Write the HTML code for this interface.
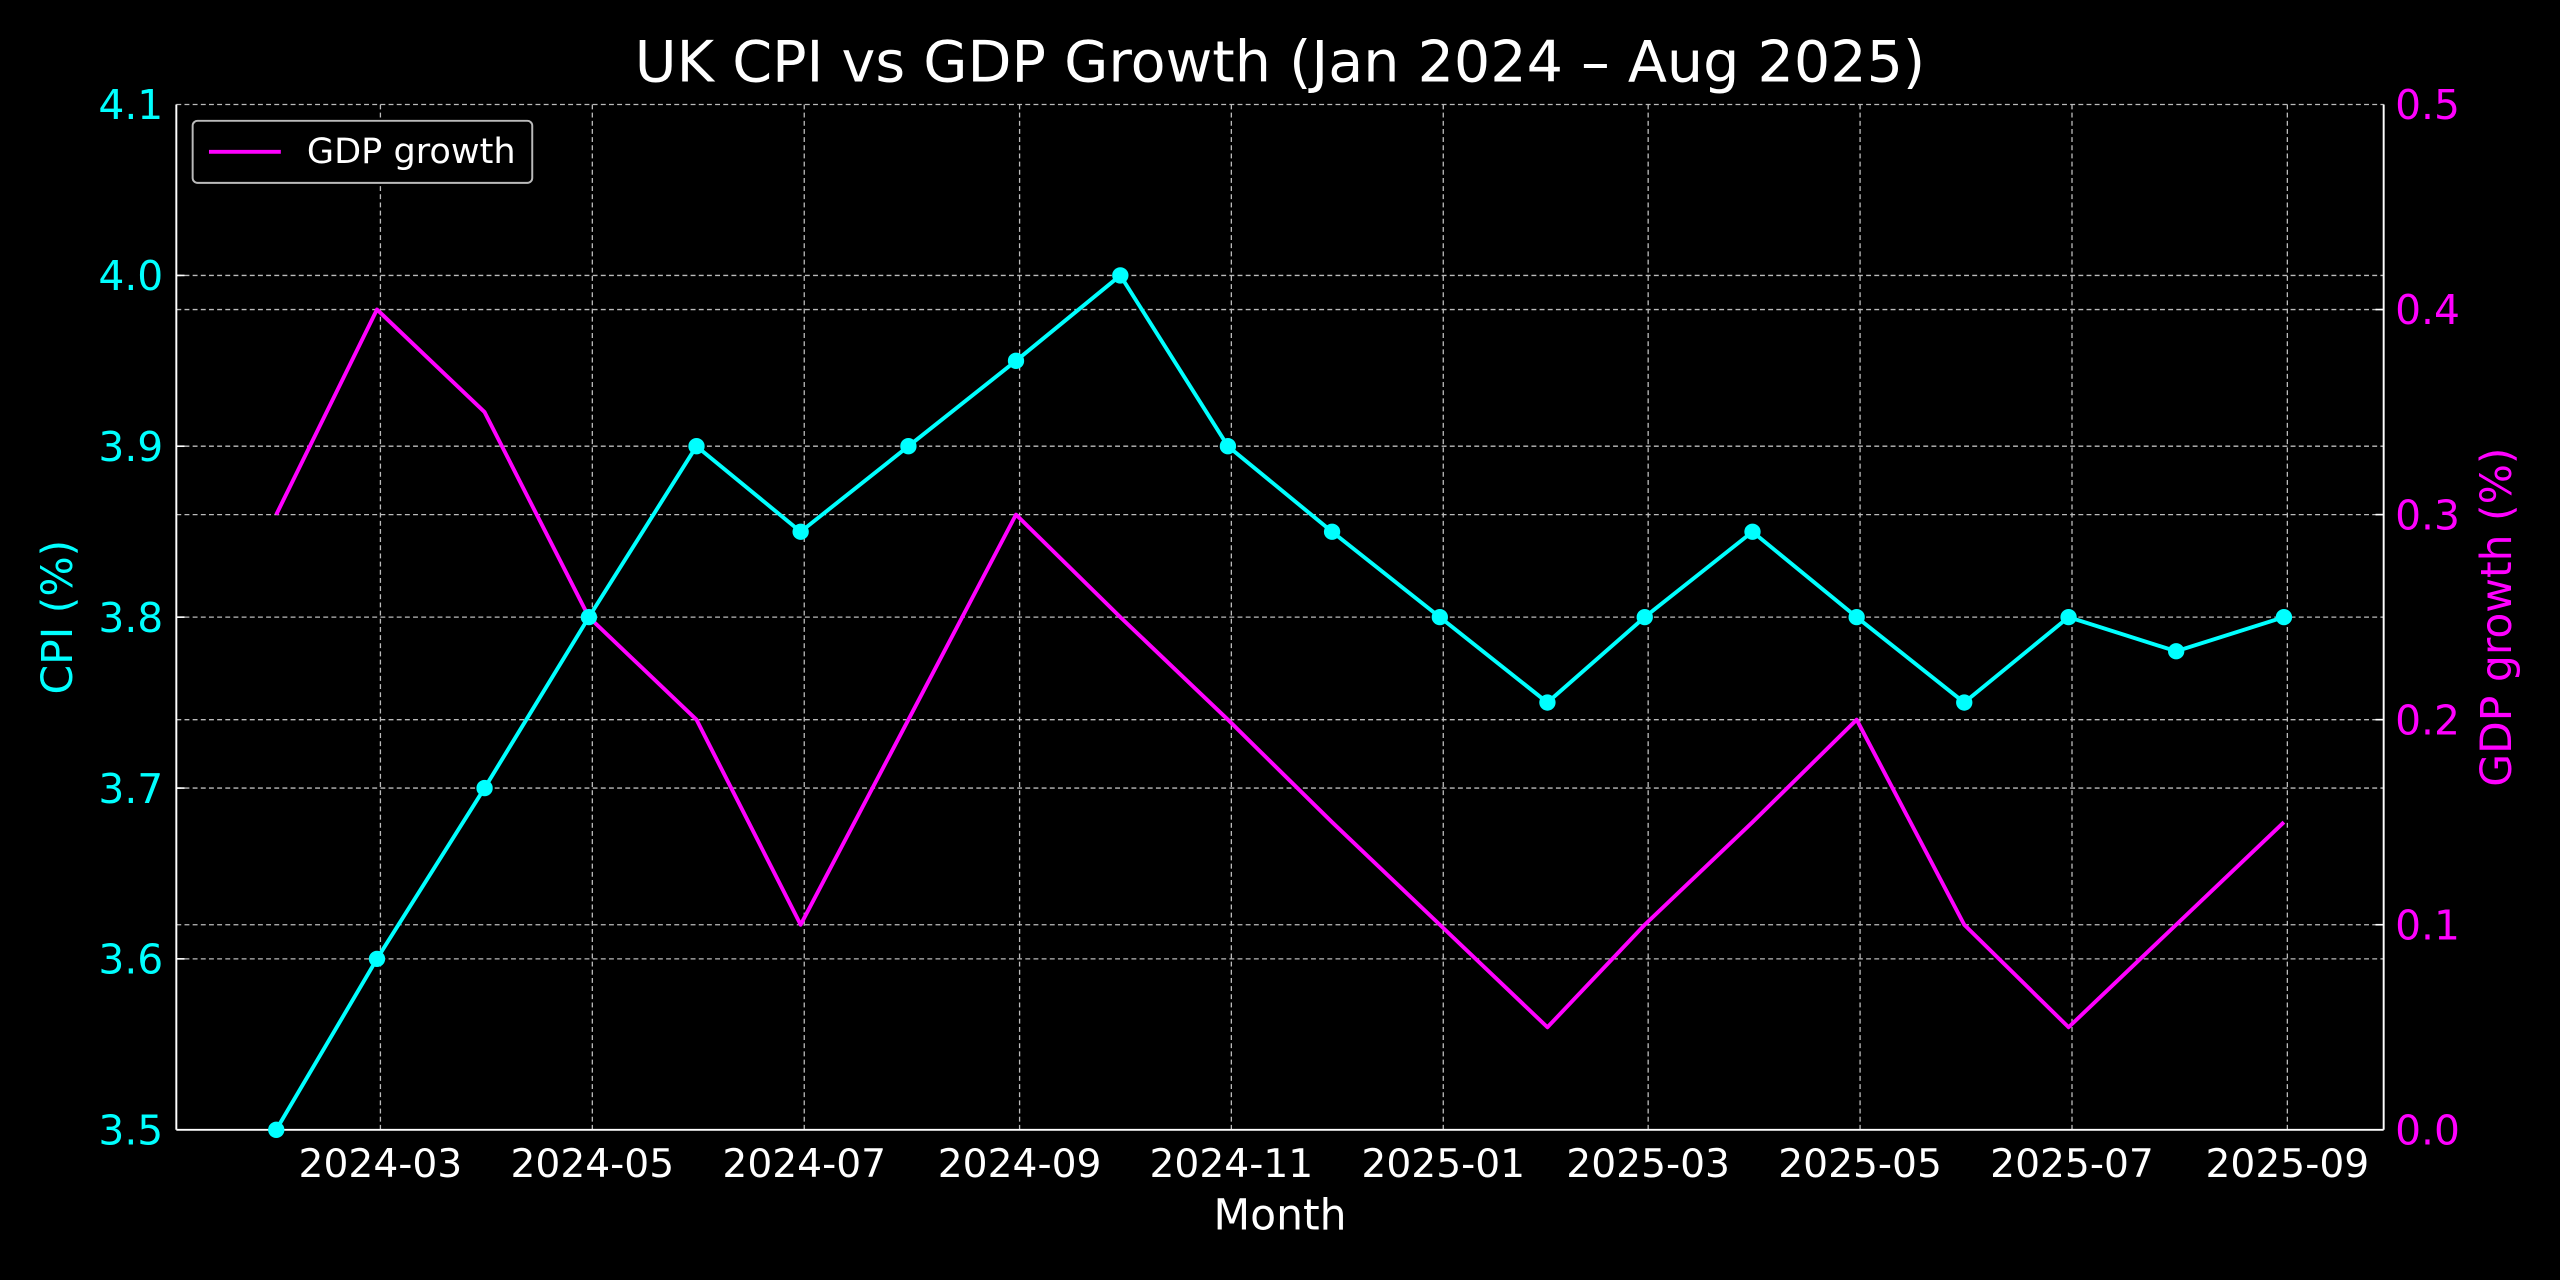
<!DOCTYPE html>
<html><head><meta charset="utf-8"><style>
html,body{margin:0;padding:0;background:#000;width:2560px;height:1280px;overflow:hidden}
svg{display:block}
text{font-family:"DejaVu Sans","Liberation Sans",sans-serif}
</style></head><body>
<svg width="2560" height="1280" viewBox="0 0 1568 784" xmlns="http://www.w3.org/2000/svg">
<rect width="1568" height="784" fill="#000"/>
<g stroke="#bbb" stroke-width="0.8" stroke-dasharray="3,2" fill="none">
<line x1="233" y1="64" x2="233" y2="692"/><line x1="362.8" y1="64" x2="362.8" y2="692"/>
<line x1="492.6" y1="64" x2="492.6" y2="692"/><line x1="624.5" y1="64" x2="624.5" y2="692"/>
<line x1="754.2" y1="64" x2="754.2" y2="692"/><line x1="884" y1="64" x2="884" y2="692"/>
<line x1="1009.5" y1="64" x2="1009.5" y2="692"/><line x1="1139.3" y1="64" x2="1139.3" y2="692"/>
<line x1="1269.1" y1="64" x2="1269.1" y2="692"/><line x1="1401" y1="64" x2="1401" y2="692"/>
<line x1="108" y1="587.3" x2="1460" y2="587.3"/><line x1="108" y1="482.7" x2="1460" y2="482.7"/>
<line x1="108" y1="378" x2="1460" y2="378"/><line x1="108" y1="273.3" x2="1460" y2="273.3"/>
<line x1="108" y1="168.7" x2="1460" y2="168.7"/><line x1="108" y1="64" x2="1460" y2="64"/>
<line x1="108" y1="566.4" x2="1460" y2="566.4"/><line x1="108" y1="440.8" x2="1460" y2="440.8"/>
<line x1="108" y1="315.2" x2="1460" y2="315.2"/><line x1="108" y1="189.6" x2="1460" y2="189.6"/>
</g>
<g stroke="#fff" stroke-width="1.2" fill="none">
<line x1="108" y1="64" x2="108" y2="692"/><line x1="1460" y1="64" x2="1460" y2="692"/><line x1="108" y1="692" x2="1460" y2="692"/>
</g>
<g stroke="#fff" stroke-width="1">
<line x1="108" y1="587.3" x2="113" y2="587.3"/><line x1="108" y1="482.7" x2="113" y2="482.7"/><line x1="108" y1="378" x2="113" y2="378"/><line x1="108" y1="273.3" x2="113" y2="273.3"/><line x1="108" y1="168.7" x2="113" y2="168.7"/>
<line x1="1460" y1="566.4" x2="1455" y2="566.4"/><line x1="1460" y1="440.8" x2="1455" y2="440.8"/><line x1="1460" y1="315.2" x2="1455" y2="315.2"/><line x1="1460" y1="189.6" x2="1455" y2="189.6"/>
</g>
<polyline fill="none" stroke="#ff00ff" stroke-width="2.4" stroke-linejoin="round" points="169.2,315.2 230.9,189.6 296.8,252.4 360.7,378 426.6,440.8 490.4,566.4 556.4,440.8 622.3,315.2 686.2,378 752.1,440.8 815.9,503.6 881.9,566.4 947.8,629.2 1007.4,566.4 1073.4,503.6 1137.2,440.8 1203.1,566.4 1267,629.2 1332.9,566.4 1398.9,503.6"/>
<polyline fill="none" stroke="#00ffff" stroke-width="2.4" stroke-linejoin="round" points="169.2,692 230.9,587.3 296.8,482.7 360.7,378 426.6,273.3 490.4,325.7 556.4,273.3 622.3,221 686.2,168.7 752.1,273.3 815.9,325.7 881.9,378 947.8,430.3 1007.4,378 1073.4,325.7 1137.2,378 1203.1,430.3 1267,378 1332.9,398.9 1398.9,378"/>
<g fill="#00ffff">
<circle cx="169.2" cy="692" r="5"/><circle cx="230.9" cy="587.3" r="5"/><circle cx="296.8" cy="482.7" r="5"/><circle cx="360.7" cy="378" r="5"/><circle cx="426.6" cy="273.3" r="5"/><circle cx="490.4" cy="325.7" r="5"/><circle cx="556.4" cy="273.3" r="5"/><circle cx="622.3" cy="221" r="5"/><circle cx="686.2" cy="168.7" r="5"/><circle cx="752.1" cy="273.3" r="5"/><circle cx="815.9" cy="325.7" r="5"/><circle cx="881.9" cy="378" r="5"/><circle cx="947.8" cy="430.3" r="5"/><circle cx="1007.4" cy="378" r="5"/><circle cx="1073.4" cy="325.7" r="5"/><circle cx="1137.2" cy="378" r="5"/><circle cx="1203.1" cy="430.3" r="5"/><circle cx="1267" cy="378" r="5"/><circle cx="1332.9" cy="398.9" r="5"/><circle cx="1398.9" cy="378" r="5"/>
</g>
<g fill="#00ffff" font-size="25" text-anchor="end">
<text x="100" y="701">3.5</text><text x="100" y="596.3">3.6</text><text x="100" y="491.7">3.7</text><text x="100" y="387">3.8</text><text x="100" y="282.3">3.9</text><text x="100" y="177.7">4.0</text><text x="100" y="73">4.1</text>
</g>
<g fill="#ff00ff" font-size="25">
<text x="1467" y="701">0.0</text><text x="1467" y="575.4">0.1</text><text x="1467" y="449.8">0.2</text><text x="1467" y="324.2">0.3</text><text x="1467" y="198.6">0.4</text><text x="1467" y="73">0.5</text>
</g>
<g fill="#fff" font-size="24" text-anchor="middle">
<text x="233" y="721">2024-03</text><text x="362.8" y="721">2024-05</text><text x="492.6" y="721">2024-07</text><text x="624.5" y="721">2024-09</text><text x="754.2" y="721">2024-11</text><text x="884" y="721">2025-01</text><text x="1009.5" y="721">2025-03</text><text x="1139.3" y="721">2025-05</text><text x="1269.1" y="721">2025-07</text><text x="1401" y="721">2025-09</text>
<text x="784" y="753" font-size="26">Month</text>
<text x="784" y="50" font-size="35">UK CPI vs GDP Growth (Jan 2024 – Aug 2025)</text>
</g>
<text transform="translate(44,378) rotate(-90)" fill="#00ffff" font-size="26" text-anchor="middle">CPI (%)</text>
<text transform="translate(1538,378) rotate(-90)" fill="#ff00ff" font-size="26" text-anchor="middle">GDP growth (%)</text>
<rect x="118" y="74" width="208" height="38" rx="3" fill="#000" stroke="#bbb" stroke-width="1.2"/>
<line x1="128" y1="93" x2="172" y2="93" stroke="#ff00ff" stroke-width="2.4"/>
<text x="188" y="100" fill="#fff" font-size="21.5">GDP growth</text>
</svg>
</body></html>
